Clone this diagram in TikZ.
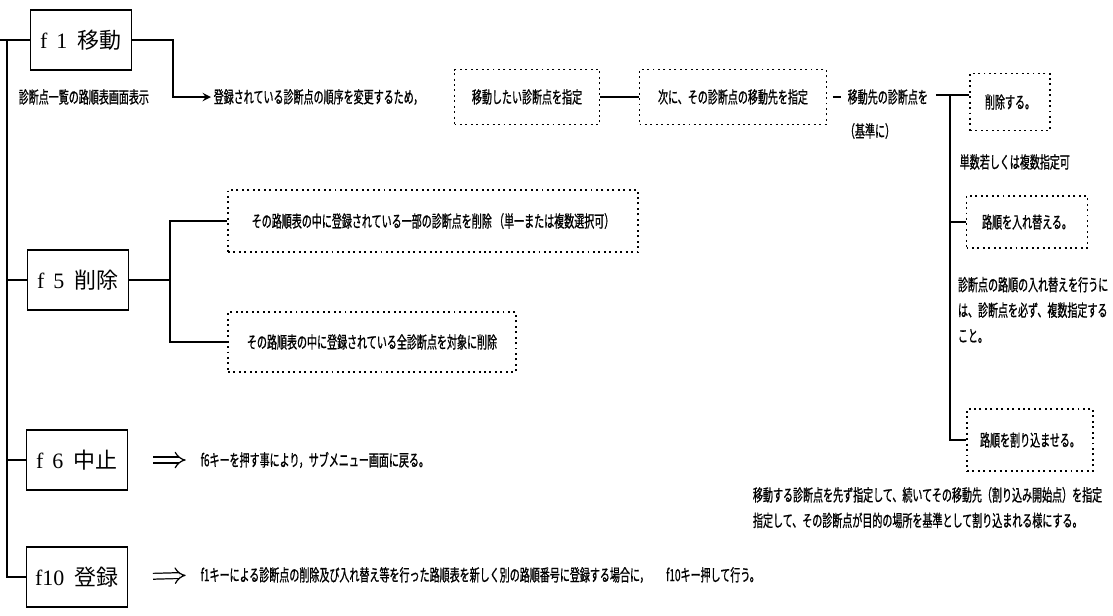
\documentclass[tikz,border=0pt]{standalone}
\usepackage{fontspec}
\setmainfont{Liberation Serif}
\newfontfamily\jp[FakeStretch=0.6, FakeBold=0.8]{Noto Sans CJK JP}
\newfontfamily\jpbox{Noto Sans CJK JP}
\usetikzlibrary{arrows.meta}

\begin{document}
\begin{tikzpicture}[x=0.2mm, y=-0.2mm, line width=1.1pt,
  fkey/.style={draw, rectangle, minimum width=20.2mm, minimum height=12mm, font=\fontsize{12.5}{15}\selectfont},
  dbox/.style={draw, rectangle, dash pattern=on 1.1pt off 2pt, inner sep=2pt, font=\jp\fontsize{9.5}{11}\selectfont},
  note/.style={inner sep=1pt, anchor=west, font=\jp\fontsize{9.5}{11}\selectfont},
  para/.style={inner sep=0pt, anchor=north west, align=left, font=\jp\fontsize{9.5}{14.5}\selectfont},
  dbl/.style={double, double distance=2.6pt, line width=0.7pt, -{Implies}, shorten <=14pt, shorten >=7pt}]
  \fill[white] (0,0) rectangle (1113,615);
  \useasboundingbox (0,0) rectangle (1113,615);

  % Function keys
  \node[fkey] (f1) at (81,40) {f\hspace{5pt}1\hspace{6pt}\jpbox 移動};
  \node[fkey] (f5) at (78,280) {f\hspace{5pt}5\hspace{6pt}\jpbox 削除};
  \node[fkey] (f6) at (77,460) {f\hspace{5pt}6\hspace{6pt}\jpbox 中止};
  \node[fkey] (f10) at (77,577) {f10\hspace{6pt}\jpbox 登録};

  % Trunk
  \coordinate (lead) at (0,40);
  \coordinate (trunk) at (7,40);
  \draw (lead) -- (f1.west);
  \draw (trunk) |- (f10.west);
  \draw (trunk |- f5.west) -- (f5.west);
  \draw (trunk |- f6.west) -- (f6.west);

  % f1 move
  \node[note] (list) at (16,97) {診断点一覧の路順表画面表示};
  \node[note] (order) at (211,97) {登録されている診断点の順序を変更するため，};
  \coordinate (bend1) at (173,40);
  \draw[-stealth] (f1.east) -- (bend1) |- (order.west);
  \node[dbox, minimum width=29mm, minimum height=11mm] (pick) at (527,97) {移動したい診断点を指定};
  \node[dbox, minimum width=37.4mm, minimum height=11mm] (dest) at (733,97) {次に、その診断点の移動先を指定};
  \node[note] (ref) at (845,97) {移動先の診断点を};
  \node[note, anchor=center] (refb) at (870,131) {（基準に）};
  \draw (pick.east) -- (dest.west);
  \draw[shorten <=3pt, shorten >=2pt] (dest.east) -- (ref.west);

  % Move options
  \node[dbox, minimum width=16mm, minimum height=11.4mm] (del) at (1010,102) {削除する。};
  \node[dbox, minimum width=24.2mm, minimum height=10.4mm] (swap) at (1027,222) {路順を入れ替える。};
  \node[dbox, minimum width=25.2mm, minimum height=12.4mm] (cut) at (1030,440) {路順を割り込ませる。};
  \coordinate (tee) at (950,95);
  \draw[shorten <=3pt] (ref.east |- tee) -- (tee -| del.west);
  \draw (tee) |- (cut.west);
  \draw (tee |- swap.west) -- (swap.west);
  \node[note] (multi) at (957,162) {単数若しくは複数指定可};
  \node[para] (swapnote) at (957,276) {診断点の路順の入れ替えを行うに\\は、診断点を必ず、複数指定する\\こと。};
  \node[para] (cutnote) at (752,486) {移動する診断点を先ず指定して、続いてその移動先（割り込み開始点）を指定\\指定して、その診断点が目的の場所を基準として割り込まれる様にする。};

  % f5 delete
  \node[dbox, minimum width=82mm, minimum height=12.4mm] (part) at (433,221) {その路順表の中に登録されている一部の診断点を削除\ （単一または複数選択可）};
  \node[dbox, minimum width=57.6mm, minimum height=12mm] (all) at (372,342) {その路順表の中に登録されている全診断点を対象に削除};
  \coordinate (bend5) at (170,280);
  \draw (f5.east) -- (bend5);
  \draw (part.west) -| (bend5) |- (all.west);

  % f6 cancel, f10 register
  \node[note] (back) at (198,460) {f6キーを押す事により，サブメニュー画面に戻る。};
  \node[note] (save) at (198,575) {f1キーによる診断点の削除及び入れ替え等を行った路順表を新しく別の路順番号に登録する場合に，\quad f10キー押して行う。};
  \draw[dbl] (f6.east) -- (back.west);
  \draw[dbl] (f10.east) -- (save.west);
\end{tikzpicture}
\end{document}
